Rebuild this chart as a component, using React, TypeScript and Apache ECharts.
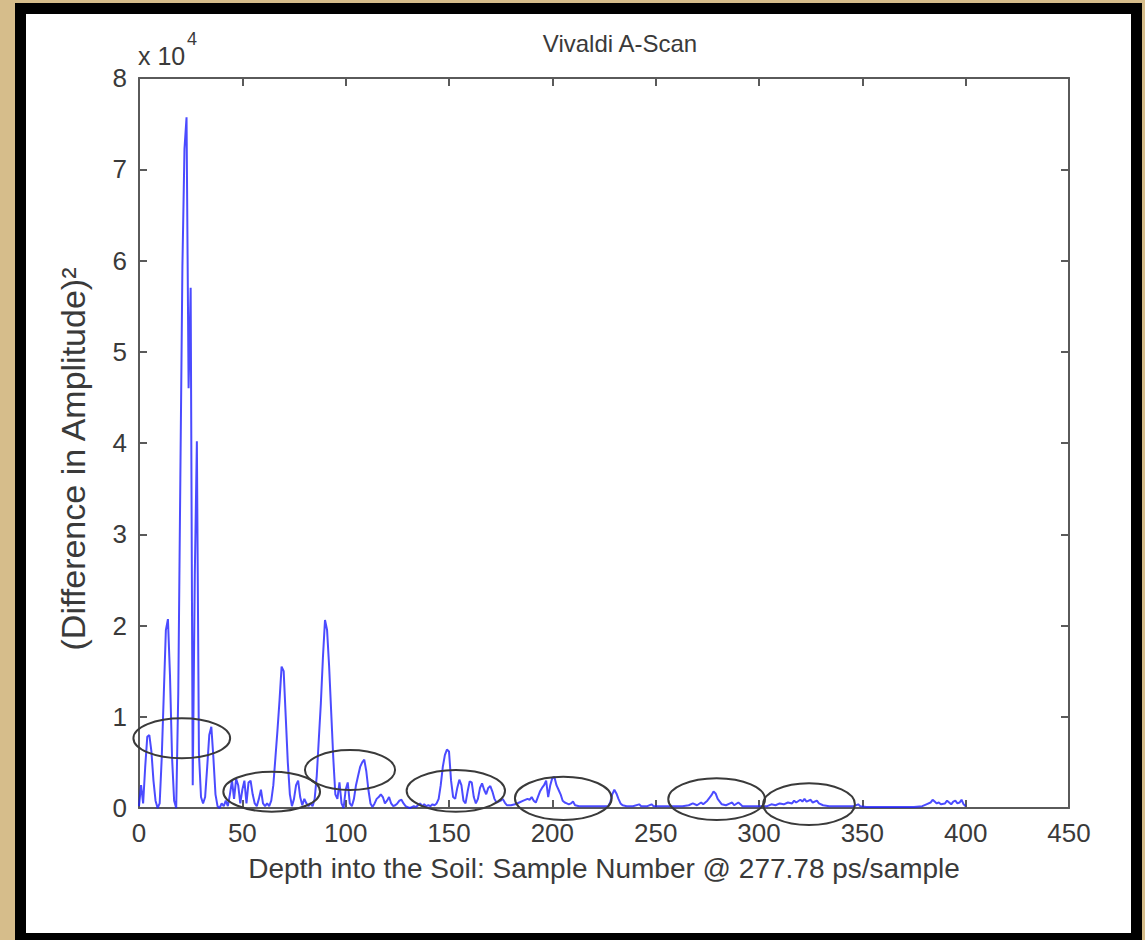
import React, { useEffect, useRef } from "react";
import * as echarts from "echarts";

// Sample numbers (x) and squared amplitude difference in units of 10^4 (y)
const sampleNo: number[] = [
  0, 1, 2, 3, 4, 5, 6, 7, 8, 9, 10, 11, 12, 13, 14, 15, 16, 17, 18, 19,
  20, 21, 22, 23, 24, 25, 26, 27, 28, 29, 30, 31, 32, 33, 34, 35, 36, 37, 38, 39,
  40, 41, 42, 43, 44, 45, 46, 47, 48, 49, 50, 51, 52, 53, 54, 55, 56, 57, 58, 59,
  60, 61, 62, 63, 64, 65, 66, 67, 68, 69, 70, 71, 72, 73, 74, 75, 76, 77, 78, 79,
  80, 81, 82, 83, 84, 85, 86, 87, 88, 89, 90, 91, 92, 93, 94, 95, 96, 97, 98, 99,
  100, 101, 102, 103, 104, 105, 106, 107, 108, 109, 110, 111, 112, 113, 114, 115, 116, 117, 118, 119,
  120, 121, 122, 123, 124, 125, 126, 127, 128, 129, 130, 131, 132, 133, 134, 135, 136, 137, 138, 139,
  140, 141, 142, 143, 144, 145, 146, 147, 148, 149, 150, 151, 152, 153, 154, 155, 156, 157, 158, 159,
  160, 161, 162, 163, 164, 165, 166, 167, 168, 169, 170, 171, 172, 173, 174, 175, 176, 177, 178,
  180, 182, 184, 186, 188, 189, 190, 191, 192, 193, 194, 195, 196, 197, 198, 199,
  200, 201, 202, 203, 204, 205, 206, 207, 208, 209, 210, 211, 213, 216, 220, 224, 227, 228, 229,
  230, 231, 232, 233, 234, 236, 239, 242, 243, 246, 248, 249, 252, 256, 260, 263, 266, 268,
  270, 272, 273, 275, 277, 278, 279, 280, 282, 284, 286, 287, 288, 290, 291, 292, 296,
  300, 304, 306, 308, 310, 312, 314, 316, 317, 318, 320, 321, 322, 323, 325, 326, 328, 329,
  331, 334, 338, 342, 346, 348, 349, 352, 356, 360, 365, 370, 375, 379, 381, 383, 384, 385,
  386, 387, 388, 390, 391, 392, 393, 394, 395, 396, 397, 398, 399, 400,
];

const amplitudeE4: number[] = [
  0.02, 0.25, 0.05, 0.45, 0.78, 0.8, 0.62, 0.3, 0.08, 0.0, 0.05, 0.55, 1.25, 1.95, 2.07, 1.45, 0.55, 0.08, 0.0, 1.26,
  3.6, 5.93, 7.22, 7.57, 4.6, 5.7, 0.25, 2.55, 4.02, 0.6, 0.12, 0.05, 0.12, 0.45, 0.8, 0.89, 0.55, 0.15, 0.02, 0.0,
  0.05, 0.02, 0.08, 0.02, 0.15, 0.3, 0.1, 0.32, 0.25, 0.05, 0.2, 0.3, 0.05, 0.28, 0.3, 0.15, 0.05, 0.02, 0.1, 0.2,
  0.05, 0.02, 0.05, 0.02, 0.08, 0.25, 0.55, 0.85, 1.18, 1.55, 1.5, 1.0, 0.5, 0.15, 0.02, 0.1, 0.25, 0.3, 0.12, 0.03,
  0.1, 0.05, 0.02, 0.05, 0.02, 0.1, 0.35, 0.75, 1.15, 1.65, 2.06, 1.95, 1.55, 1.05, 0.55, 0.15, 0.1, 0.28, 0.05, 0.0,
  0.2, 0.28, 0.05, 0.02, 0.1, 0.25, 0.35, 0.45, 0.5, 0.53, 0.4, 0.2, 0.05, 0.01, 0.05, 0.1, 0.12, 0.15, 0.12, 0.05,
  0.08, 0.12, 0.05, 0.02, 0.03, 0.05, 0.08, 0.09, 0.05, 0.02, 0.01, 0.0, 0.01, 0.02, 0.01, 0.03, 0.05, 0.02, 0.04, 0.02,
  0.03, 0.02, 0.04, 0.03, 0.05, 0.1, 0.25, 0.45, 0.58, 0.64, 0.62, 0.3, 0.12, 0.1, 0.22, 0.31, 0.25, 0.08, 0.05, 0.18,
  0.29, 0.28, 0.12, 0.05, 0.1, 0.22, 0.27, 0.2, 0.15, 0.22, 0.24, 0.18, 0.1, 0.06, 0.07, 0.08, 0.1, 0.06, 0.03,
  0.03, 0.04, 0.06, 0.08, 0.1, 0.09, 0.12, 0.08, 0.06, 0.12, 0.18, 0.22, 0.25, 0.3, 0.12, 0.25,
  0.33, 0.34, 0.25, 0.2, 0.15, 0.08, 0.06, 0.05, 0.04, 0.05, 0.07, 0.03, 0.02, 0.02, 0.02, 0.02, 0.02, 0.06, 0.15,
  0.2, 0.16, 0.1, 0.05, 0.03, 0.02, 0.02, 0.04, 0.02, 0.02, 0.04, 0.02, 0.02, 0.02, 0.02, 0.02, 0.03, 0.05,
  0.03, 0.06, 0.04, 0.08, 0.14, 0.18, 0.16, 0.1, 0.04, 0.03, 0.05, 0.06, 0.03, 0.06, 0.04, 0.02, 0.02,
  0.02, 0.02, 0.04, 0.03, 0.05, 0.04, 0.06, 0.05, 0.08, 0.06, 0.09, 0.07, 0.1, 0.07, 0.09, 0.06, 0.08, 0.05,
  0.03, 0.02, 0.02, 0.02, 0.02, 0.04, 0.02, 0.01, 0.01, 0.01, 0.01, 0.01, 0.01, 0.02, 0.04, 0.06, 0.09, 0.07,
  0.05, 0.06, 0.04, 0.05, 0.08, 0.06, 0.04, 0.07, 0.08, 0.05, 0.06, 0.09, 0.04, 0.02,
];

// Annotation ellipses: centre sample, centre value (x10^4), x half-width (samples), y half-height (x10^4)
const ellipseCx: number[] = [20.7, 64.2, 102.1, 153.3, 205.3, 279.5, 324.2];
const ellipseCy: number[] = [0.764, 0.179, 0.416, 0.188, 0.106, 0.097, 0.042];
const ellipseRx: number[] = [23.4, 23.4, 21.8, 23.8, 23.4, 23.4, 22.2];
const ellipseRy: number[] = [0.219, 0.219, 0.219, 0.228, 0.237, 0.228, 0.228];

const xTicks = { min: 0, max: 450, interval: 50 };
const yTicks = { min: 0, max: 8, interval: 1 };

const titleText = "Vivaldi A-Scan";
const xLabel = "Depth into the Soil: Sample Number @ 277.78 ps/sample";
const yLabel = "(Difference in Amplitude)²";

export default function App() {
  const ref = useRef<HTMLDivElement>(null);
  useEffect(() => {
    if (!ref.current) return;
    const chart = echarts.init(ref.current, undefined, { renderer: "svg" });
    const font = "'Liberation Sans', Arial, Helvetica, sans-serif";
    const axisColor = "#5a5a5a";
    const textColor = "#3a3a3a";
    const lineData = sampleNo.map((s, i) => [s, amplitudeE4[i]]);
    const ellipseData = ellipseCx.map((cx, i) => [cx, ellipseCy[i], ellipseRx[i], ellipseRy[i]]);
    const boxAxis = (position: string, isX: boolean) => ({
      type: "value",
      position,
      ...(isX ? xTicks : yTicks),
      axisLine: { show: true, onZero: false, lineStyle: { color: axisColor, width: 2 } },
      axisTick: { show: true, inside: true, length: 8, lineStyle: { color: axisColor, width: 2 } },
      axisLabel: { show: false },
      splitLine: { show: false },
    });
    chart.setOption({
      animation: false,
      backgroundColor: "#d6bd8b",
      textStyle: { fontFamily: font },
      title: {
        text: titleText,
        left: 615,
        top: 26,
        textAlign: "center",
        textStyle: { fontFamily: font, fontSize: 24, fontWeight: "normal", color: textColor },
      },
      grid: { left: 139, top: 78, right: 76, bottom: 132, containLabel: false },
      graphic: [
        { type: "rect", z: -20, silent: true, shape: { x: 15, y: 3, width: 1127, height: 950 }, style: { fill: "#000" } },
        { type: "rect", z: -19, silent: true, shape: { x: 26, y: 14, width: 1105, height: 919 }, style: { fill: "#fff" } },
        {
          type: "text", x: 138, y: 43, z: 10,
          style: { text: "x 10", fontSize: 25, fontFamily: font, fill: textColor },
        },
        {
          type: "text", x: 187, y: 30, z: 10,
          style: { text: "4", fontSize: 18, fontFamily: font, fill: textColor },
        },
        {
          type: "text", x: 73, y: 459, rotation: Math.PI / 2, z: 10,
          style: {
            text: yLabel, fontSize: 34, fontFamily: font, fill: textColor,
            align: "center", verticalAlign: "middle",
          },
        },
      ],
      xAxis: [
        {
          type: "value",
          position: "bottom",
          ...xTicks,
          name: xLabel,
          nameLocation: "middle",
          nameGap: 46,
          nameTextStyle: { fontSize: 28, color: textColor, fontFamily: font },
          axisLine: { show: true, onZero: false, lineStyle: { color: axisColor, width: 2 } },
          axisTick: { show: true, inside: true, length: 8, lineStyle: { color: axisColor, width: 2 } },
          axisLabel: { fontSize: 26, color: textColor, margin: 12, fontFamily: font },
          splitLine: { show: false },
        },
        boxAxis("top", true),
      ],
      yAxis: [
        {
          type: "value",
          position: "left",
          ...yTicks,
          axisLine: { show: true, onZero: false, lineStyle: { color: axisColor, width: 2 } },
          axisTick: { show: true, inside: true, length: 8, lineStyle: { color: axisColor, width: 2 } },
          axisLabel: { fontSize: 26, color: textColor, margin: 12, fontFamily: font },
          splitLine: { show: false },
        },
        boxAxis("right", false),
      ],
      series: [
        {
          type: "line",
          data: lineData,
          xAxisIndex: 0,
          yAxisIndex: 0,
          showSymbol: false,
          symbol: "none",
          lineStyle: { color: "rgba(30,30,255,0.8)", width: 2 },
          z: 2,
        },
        {
          type: "custom",
          data: ellipseData,
          xAxisIndex: 0,
          yAxisIndex: 0,
          clip: false,
          z: 3,
          encode: { x: 0, y: 1 },
          renderItem: (params: any, api: any) => {
            const c = api.coord([api.value(0), api.value(1)]);
            const s = api.size([api.value(2), api.value(3)]);
            return {
              type: "ellipse",
              shape: { cx: c[0], cy: c[1], rx: s[0], ry: s[1] },
              style: { fill: "none", stroke: "#3a3a3a", lineWidth: 2 },
            };
          },
        },
      ],
    });
    return () => chart.dispose();
  }, []);
  return (
    <div
      ref={ref}
      style={{ position: "fixed", left: 0, top: 0, width: 1145, height: 940 }}
    />
  );
}
